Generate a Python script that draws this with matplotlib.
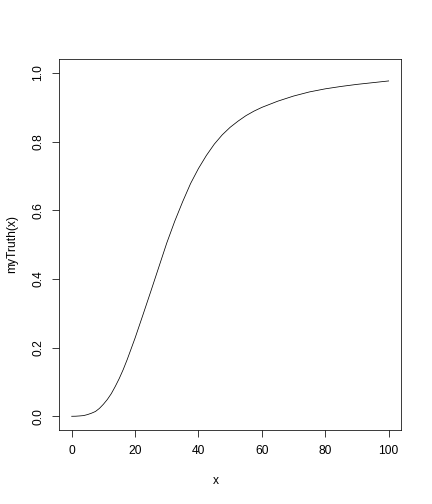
import matplotlib
matplotlib.use("Agg")
import matplotlib.pyplot as plt

# values
x = [0, 1.25, 2.5, 3.75, 5, 6.25, 7.5, 8.75, 10, 11.25, 12.5, 13.75, 15,
     16.25, 17.5, 20, 22.5, 25, 27.5, 30, 32.5, 35, 37.5, 40, 42.5, 45,
     47.5, 50, 52.5, 55, 57.5, 60, 65, 70, 75, 80, 85, 90, 95, 100]
y = [0.000, 0.0002, 0.001, 0.002, 0.005, 0.009, 0.014, 0.023, 0.035, 0.049,
     0.066, 0.087, 0.110, 0.136, 0.165, 0.228, 0.296, 0.365, 0.435, 0.505,
     0.568, 0.625, 0.678, 0.722, 0.760, 0.793, 0.820, 0.842, 0.860, 0.876,
     0.889, 0.900, 0.918, 0.933, 0.945, 0.954, 0.961, 0.967, 0.972, 0.977]

xticks = [0, 20, 40, 60, 80, 100]
yticks = [0.0, 0.2, 0.4, 0.6, 0.8, 1.0]

plt.rcParams['font.family'] = ['Liberation Sans', 'DejaVu Sans']
plt.rcParams['font.size'] = 12

fig = plt.figure(figsize=(6, 7), dpi=72)
ax = fig.add_axes([0.1366, 0.1468, 0.7924, 0.7355])

ax.plot(x, y, color='black', linewidth=0.75)

ax.set_xlim(-4, 104)
ax.set_ylim(-0.04, 1.04)
ax.set_xticks(xticks)
ax.set_xticklabels([str(v) for v in xticks])
ax.set_yticks(yticks)
ax.set_yticklabels(["%.1f" % v for v in yticks], rotation=90, va='center')

ax.tick_params(direction='out', length=7, width=0.75, pad=8, colors='black')
for s in ax.spines.values():
    s.set_linewidth(0.75)
    s.set_color('black')

fig.text(0.5, 1 - 481 / 504, "x", ha='center', va='center', fontsize=12)
fig.text(12 / 432, (1 - 416.7 / 504 + 1 - 72.3 / 504) / 2, "myTruth(x)",
         rotation=90, ha='center', va='center', fontsize=12)

fig.savefig("out.png", dpi=72)
